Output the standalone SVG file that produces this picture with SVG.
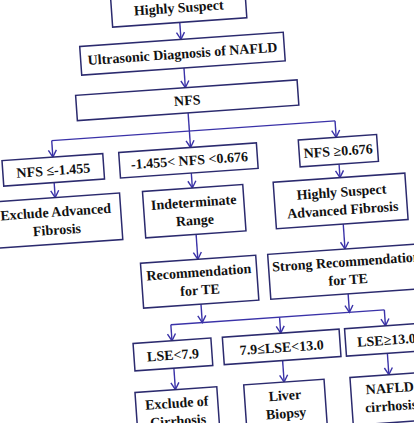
<svg xmlns="http://www.w3.org/2000/svg" width="414" height="423" viewBox="0 0 414 423">
<defs>
<style>
.box{fill:#fff;stroke:#2b2a6e;stroke-width:1.5}
.t{font-family:"Liberation Serif","Times New Roman",serif;font-weight:bold;font-size:14px;fill:#111;text-anchor:middle}
.c{fill:none;stroke:#3a32a8;stroke-width:1.4}
</style>
<marker id="ah" viewBox="-8 -5 10 10" refX="0" refY="0" markerWidth="10" markerHeight="10" markerUnits="userSpaceOnUse" orient="auto">
<path d="M-7,-4 L0,0 L-7,4" fill="none" stroke="#3a32a8" stroke-width="1.4"/>
</marker>
</defs>
<rect width="414" height="423" fill="#fff"/>
<g transform="rotate(-4 207 211)">
<g id="connectors">
<path class="c" d="M193,21 V38" marker-end="url(#ah)"/>
<path class="c" d="M194,66.7 V86.5" marker-end="url(#ah)"/>
<path class="c" d="M195,111.8 V146.5" marker-end="url(#ah)"/>
<path class="c" d="M57,130 H341"/>
<path class="c" d="M57,130 V146.5" marker-end="url(#ah)"/>
<path class="c" d="M341,130 V146.5" marker-end="url(#ah)"/>
<path class="c" d="M56.5,172 V187" marker-end="url(#ah)"/>
<path class="c" d="M194,172 V187" marker-end="url(#ah)"/>
<path class="c" d="M342,173.5 V187" marker-end="url(#ah)"/>
<path class="c" d="M194.5,233.5 V258.5" marker-end="url(#ah)"/>
<path class="c" d="M342,233.5 V258.5" marker-end="url(#ah)"/>
<path class="c" d="M194.5,303.5 V322" marker-end="url(#ah)"/>
<path class="c" d="M342,303.5 V322" marker-end="url(#ah)"/>
<path class="c" d="M163,322 H377"/>
<path class="c" d="M163,322 V338" marker-end="url(#ah)"/>
<path class="c" d="M272,322 V338" marker-end="url(#ah)"/>
<path class="c" d="M377,322 V338" marker-end="url(#ah)"/>
<path class="c" d="M163,365.5 V387" marker-end="url(#ah)"/>
<path class="c" d="M272,365.5 V387" marker-end="url(#ah)"/>
<path class="c" d="M377,365.5 V387" marker-end="url(#ah)"/>
</g>
<g id="n-highly-suspect"><rect class="box" x="125.7" y="-9" width="134.5" height="30"/><text class="t" x="193" y="11">Highly Suspect</text></g>
<g id="n-ultrasonic"><rect class="box" x="91.5" y="38" width="204" height="28.7"/><text class="t" x="193.5" y="57">Ultrasonic Diagnosis of NAFLD</text></g>
<g id="n-nfs"><rect class="box" x="84" y="86.5" width="222" height="25.3"/><text class="t" x="195" y="104">NFS</text></g>
<g id="n-nfs-low"><rect class="box" x="6" y="146.5" width="101" height="25.5"/><text class="t" x="56.5" y="164.5">NFS ≤-1.455</text></g>
<g id="n-nfs-mid"><rect class="box" x="123" y="146.5" width="138" height="25.5"/><text class="t" x="193" y="164">-1.455&lt; NFS &lt;0.676</text></g>
<g id="n-nfs-high"><rect class="box" x="303" y="146.5" width="78.5" height="27"/><text class="t" x="342" y="165">NFS ≥0.676</text></g>
<g id="n-exclude-af"><rect class="box" x="-9" y="187" width="130" height="46.5"/><text class="t" x="56" y="206">Exclude Advanced</text><text class="t" x="56" y="224">Fibrosis</text></g>
<g id="n-indeterminate"><rect class="box" x="144" y="187" width="100.5" height="46.5"/><text class="t" x="194.3" y="206">Indeterminate</text><text class="t" x="194.3" y="224">Range</text></g>
<g id="n-hs-af"><rect class="box" x="275" y="187" width="132" height="46.5"/><text class="t" x="342.5" y="206">Highly Suspect</text><text class="t" x="342.5" y="224">Advanced Fibrosis</text></g>
<g id="n-rec-te"><rect class="box" x="137" y="258.5" width="115.5" height="45"/><text class="t" x="194.5" y="276">Recommendation</text><text class="t" x="194.5" y="294">for TE</text></g>
<g id="n-strong-rec-te"><rect class="box" x="264.5" y="258.5" width="155" height="45"/><text class="t" x="342.5" y="276">Strong Recommendation</text><text class="t" x="343" y="294">for TE</text></g>
<g id="n-lse-low"><rect class="box" x="124" y="338" width="78" height="27.5"/><text class="t" x="163" y="357">LSE&lt;7.9</text></g>
<g id="n-lse-mid"><rect class="box" x="213.5" y="338" width="117" height="27.5"/><text class="t" x="272" y="357">7.9≤LSE&lt;13.0</text></g>
<g id="n-lse-high"><rect class="box" x="336" y="338" width="82" height="27.5"/><text class="t" x="377" y="357">LSE≥13.0</text></g>
<g id="n-exclude-cirr"><rect class="box" x="122.5" y="387" width="82" height="48"/><text class="t" x="163.5" y="405">Exclude of</text><text class="t" x="163.5" y="423">Cirrhosis</text></g>
<g id="n-biopsy"><rect class="box" x="231.5" y="387" width="80.5" height="48"/><text class="t" x="271.8" y="405">Liver</text><text class="t" x="271.8" y="423">Biopsy</text></g>
<g id="n-nafld-cirr"><rect class="box" x="338" y="387" width="78" height="48"/><text class="t" x="377" y="405">NAFLD</text><text class="t" x="377" y="423">cirrhosis</text></g>
</g>
</svg>
